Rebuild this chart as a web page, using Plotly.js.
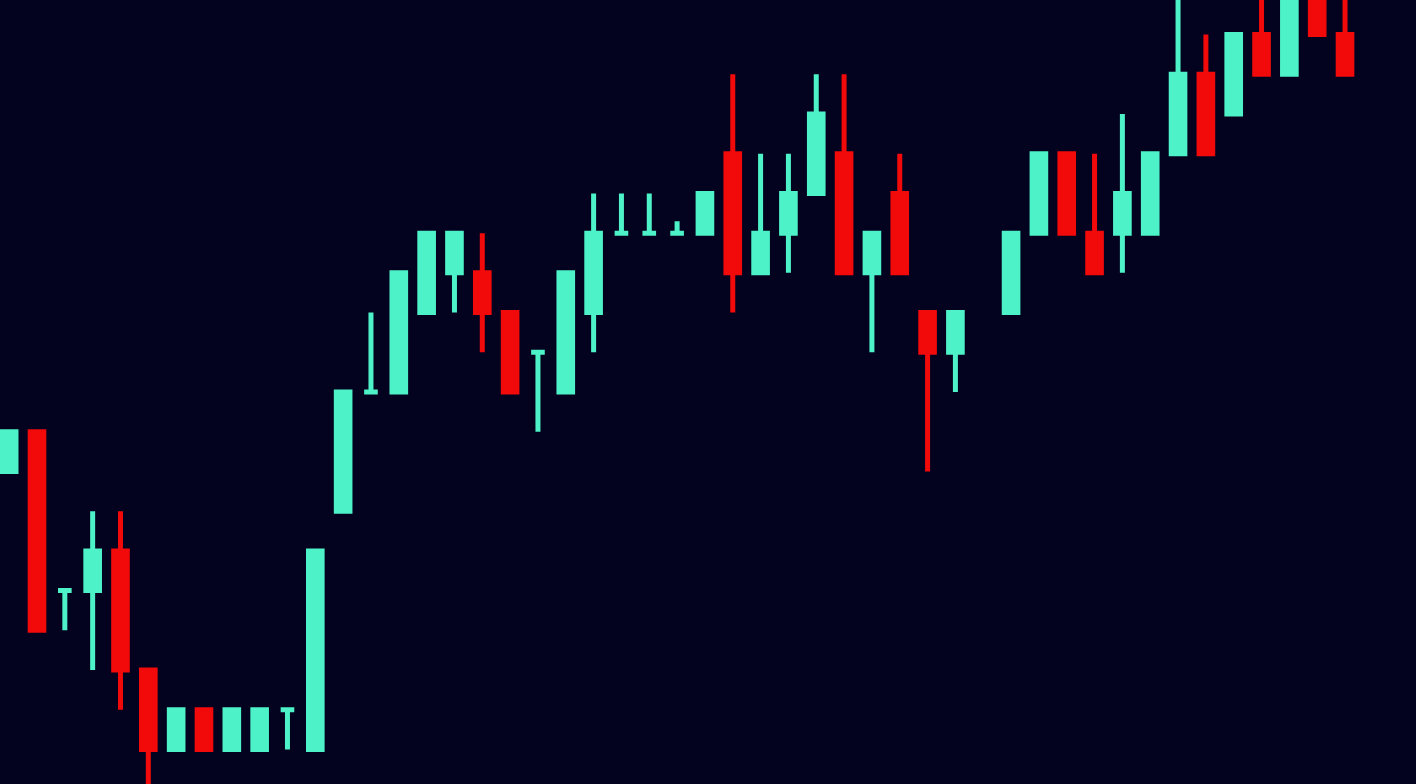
<!DOCTYPE html>
<html>
<head>
<meta charset="utf-8">
<script src="https://cdn.plot.ly/plotly-3.0.1.min.js"></script>
<style>
html,body{margin:0;padding:0;background:#03031f;overflow:hidden;}
#chart{width:1416px;height:784px;}
</style>
</head>
<body>
<div id="chart"></div>
<script>
// session index (one gap at 35 where no candle was drawn)
const days  = [0,1,2,3,4,5,6,7,8,9,10,11,12,13,14,15,16,17,18,19,20,21,22,23,24,25,26,27,28,29,30,31,32,33,34,36,37,38,39,40,41,42,43,44,45,46,47,48];
const opens = [7,8,4,4,5,2,0,1,0,0,1,0,6,9,9,11,12,12,11,10,9,11,13,13,13,13,15,12,13,14,15,12,14,11,10,11,13,15,13,13,13,15,17,16,18,17,19.2,18];
const highs = [8,8,4,6,6,2,1,1,1,1,1,5,9,11,12,13,13,13,11,10,12,14,14,14,13.3,14,17,15,15,17,17,13,15,11,11,13,15,15,15,16,15,19.2,18,18,19.2,19.2,19.2,19.2];
const lows  = [7,3,3,2,1,-1.2,0,0,0,0,0,0,6,9,9,11,11,10,9,8,9,10,13,13,13,13,11,12,12,14,12,10,12,7,9,11,13,13,12,12,13,15,15,16,17,17,18,17];
const closes= [8,3,4,5,2,0,1,0,1,1,1,5,9,9,12,13,13,11,9,10,12,13,13,13,13,14,12,13,14,16,12,13,12,10,11,13,15,13,12,14,15,17,15,18,17,19.2,18,17];

const UP = '#4ef2c8';
const DOWN = '#f20a0a';

const trace = {
  type: 'candlestick',
  x: days, open: opens, high: highs, low: lows, close: closes,
  increasing: {line: {color: UP, width: 5}, fillcolor: UP},
  decreasing: {line: {color: DOWN, width: 5}, fillcolor: DOWN},
  whiskerwidth: 0,
  hoverinfo: 'none'
};

const layout = {
  width: 1416, height: 784,
  margin: {l: 0, r: 0, t: 0, b: 0, pad: 0},
  paper_bgcolor: '#03031f',
  plot_bgcolor: '#03031f',
  showlegend: false,
  xaxis: {visible: false, range: [-0.3295, 50.55], rangeslider: {visible: false}, fixedrange: true},
  yaxis: {visible: false, range: [-0.869, 18.87], fixedrange: true}
};

Plotly.newPlot('chart', [trace], layout, {displayModeBar: false, staticPlot: true});
</script>
</body>
</html>
